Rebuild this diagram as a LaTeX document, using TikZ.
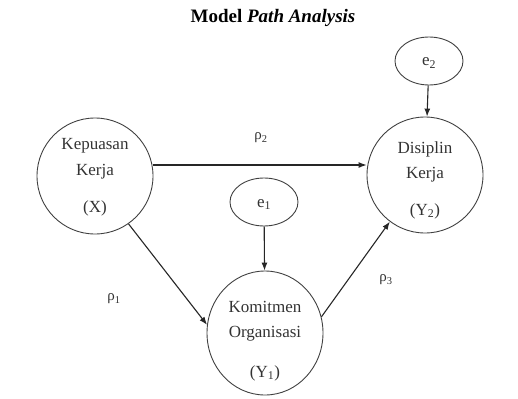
\documentclass[tikz,border=0pt]{standalone}
\usepackage{fontspec}
\setmainfont{Liberation Serif}
\usetikzlibrary{arrows.meta,calc,shapes.geometric}
\begin{document}
\begin{tikzpicture}[x=1pt,y=-1pt,
  var/.style={draw=black!75,line width=0.9pt,circle,minimum size=116pt,inner sep=0pt},
  err/.style={draw=black!75,line width=0.9pt,ellipse,minimum width=68pt,minimum height=48pt,inner sep=0pt},
  lbl/.style={anchor=base,inner sep=0pt,font=\fontsize{17}{20}\selectfont,text=black!80},
  coef/.style={inner sep=0pt,font=\fontsize{15}{17}\selectfont,text=black!80},
  path/.style={draw=black!85,line width=1.1pt,-{Latex[length=8pt,width=6pt]}}]
\useasboundingbox (0,0) rectangle (518,398);
% title
\node[anchor=base,inner sep=0pt,font=\fontsize{19}{22}\selectfont\bfseries] (title) at (273,23) {Model \textit{Path Analysis}};
% latent variables
\node[var] (X) at (95,176) {};
\node[var] (Y2) at (425,175) {};
\node[draw=black!75,line width=0.9pt,ellipse,minimum width=116pt,minimum height=124pt,inner sep=0pt] (Y1) at (265,333) {};
% error terms
\node[err] (e1) at (264,202) {};
\node[err] (e2) at (429,61) {};
\node[lbl] (e1t) at ($(e1)+(0,5)$) {e\textsubscript{1}};
\node[lbl] (e2t) at ($(e2)+(0,5)$) {e\textsubscript{2}};
% texts inside the circles
\node[lbl] (Xa) at ($(X)+(0,-27)$) {Kepuasan};
\node[lbl] (Xb) at ($(X)+(0,-1)$) {Kerja};
\node[lbl] (Xc) at ($(X)+(0,36)$) {(X)};
\node[lbl] (Y2a) at ($(Y2)+(0,-22)$) {Disiplin};
\node[lbl] (Y2b) at ($(Y2)+(0,3)$) {Kerja};
\node[lbl] (Y2c) at ($(Y2)+(0,40)$) {(Y\textsubscript{2})};
\node[lbl] (Y1a) at ($(Y1)+(0,-21)$) {Komitmen};
\node[lbl] (Y1b) at ($(Y1)+(0,4)$) {Organisasi};
\node[lbl] (Y1c) at ($(Y1)+(0,44)$) {(Y\textsubscript{1})};
% paths
\draw[path] (X.east |- 0,165) coordinate (xs) -- (xs -| Y2.west);
\draw[path] (X.-55) -- (Y1.172);
\draw[path] (Y1.16) -- (Y2.233);
\draw[path] (e1) -- (Y1);
\draw[path] (e2) -- (Y2);
% coefficients
\node[coef] (p1) at (114,299) {ρ\textsubscript{1}};
\node[coef] (p2) at (261,138) {ρ\textsubscript{2}};
\node[coef] (p3) at (386,280) {ρ\textsubscript{3}};
\end{tikzpicture}
\end{document}
